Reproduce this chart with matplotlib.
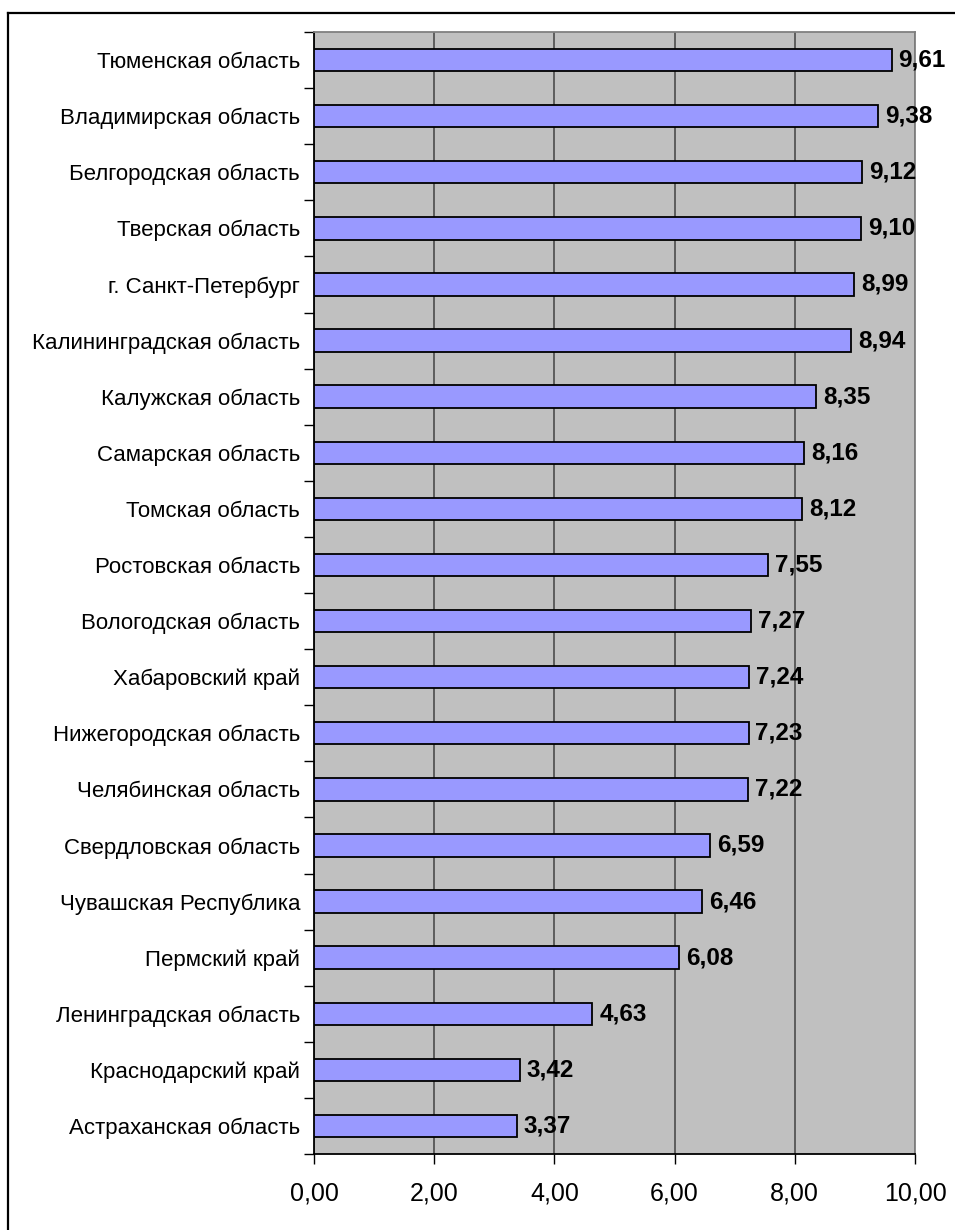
import matplotlib
matplotlib.use("Agg")
import matplotlib.pyplot as plt
from matplotlib.lines import Line2D
from matplotlib.ticker import FixedLocator

plt.rcParams['font.family'] = ['Liberation Sans', 'DejaVu Sans']

regions = [
    "Тюменская область",
    "Владимирская область",
    "Белгородская область",
    "Тверская область",
    "г. Санкт-Петербург",
    "Калининградская область",
    "Калужская область",
    "Самарская область",
    "Томская область",
    "Ростовская область",
    "Вологодская область",
    "Хабаровский край",
    "Нижегородская область",
    "Челябинская область",
    "Свердловская область",
    "Чувашская Республика",
    "Пермский край",
    "Ленинградская область",
    "Краснодарский край",
    "Астраханская область",
]
values = [9.61, 9.38, 9.12, 9.10, 8.99, 8.94, 8.35, 8.16, 8.12, 7.55,
          7.27, 7.24, 7.23, 7.22, 6.59, 6.46, 6.08, 4.63, 3.42, 3.37]
x_ticks = [0, 2, 4, 6, 8, 10]

W, H = 955, 1230
fig = plt.figure(figsize=(W / 100, H / 100), dpi=100)
fig.patch.set_facecolor('white')

# outer chart frame (left and top edges visible)
fig.add_artist(Line2D([8 / W, 8 / W], [0, 1 - 13 / H], transform=fig.transFigure,
                      color='black', lw=1.6))
fig.add_artist(Line2D([8 / W, 1], [1 - 13 / H, 1 - 13 / H], transform=fig.transFigure,
                      color='black', lw=1.6))

left, right, top, bottom = 314, 915, 32, 1154
ax = fig.add_axes([left / W, 1 - bottom / H, (right - left) / W, (bottom - top) / H])
ax.set_facecolor('#C0C0C0')

n = len(regions)
ypos = list(range(n))
ax.barh(ypos, values, height=0.4, color='#9999FF', edgecolor='black', linewidth=1.3, zorder=3)

ax.set_xlim(0, 10)
ax.set_ylim(n - 0.5, -0.5)

ax.xaxis.set_major_locator(FixedLocator(x_ticks))
ax.set_xticklabels([f"{t:.2f}".replace('.', ',') for t in x_ticks], fontsize=18)
ax.tick_params(axis='x', direction='out', length=7, width=1, color='black', pad=13)

# category labels centred on bars, ticks at category boundaries
ax.set_yticks(ypos)
ax.set_yticklabels(regions, fontsize=16)
ax.tick_params(axis='y', which='major', length=0, pad=10)
ax.yaxis.set_minor_locator(FixedLocator([i - 0.5 for i in range(n + 1)]))
ax.tick_params(axis='y', which='minor', direction='out', length=7, width=1, color='black')

ax.grid(axis='x', color='#555555', linewidth=1.3, zorder=1)
ax.set_axisbelow(True)

for side in ('top', 'right'):
    ax.spines[side].set_color('#808080')
    ax.spines[side].set_linewidth(1.3)
for side in ('left', 'bottom'):
    ax.spines[side].set_color('black')
    ax.spines[side].set_linewidth(1.3)

for y, v in zip(ypos, values):
    ax.annotate(f"{v:.2f}".replace('.', ','), xy=(v, y), xytext=(5, 0),
                textcoords='offset points', va='center', ha='left',
                fontsize=17.5, fontweight='bold', zorder=4, annotation_clip=False)

fig.savefig("out.png", dpi=100)
